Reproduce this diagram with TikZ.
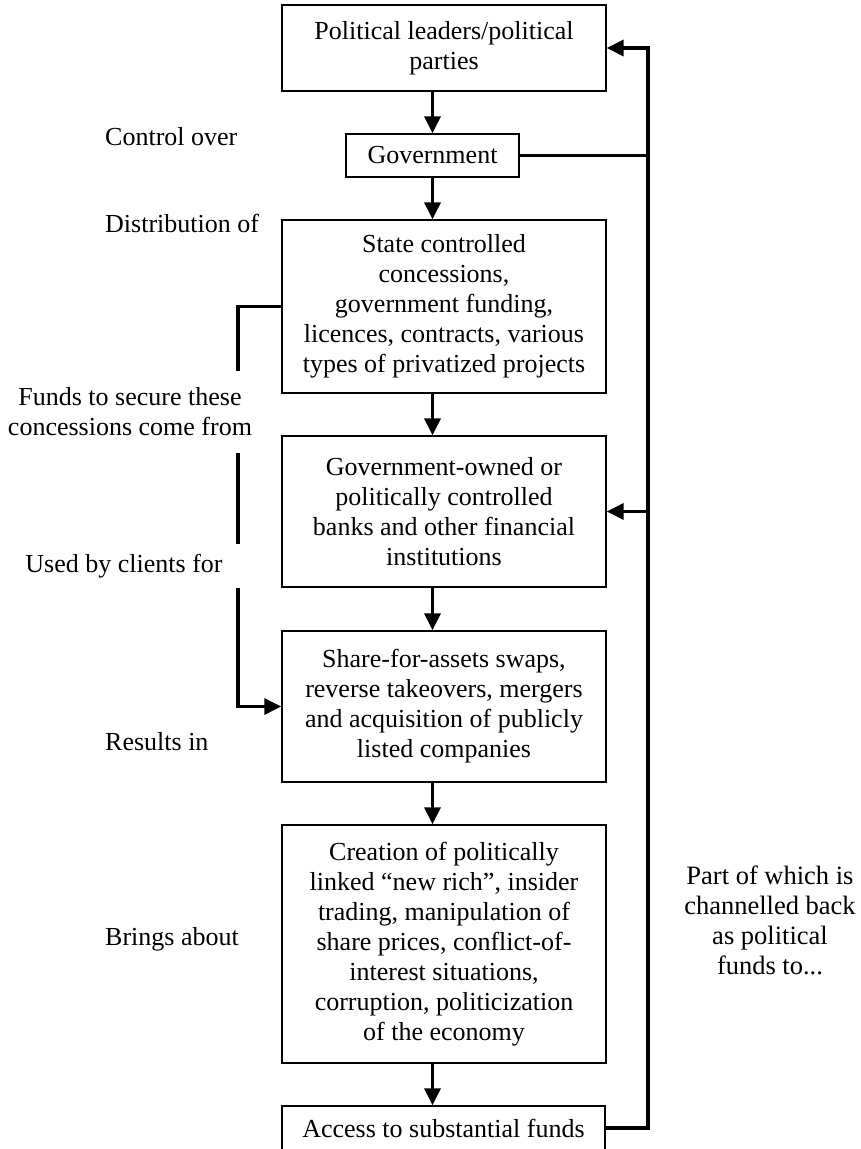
\documentclass[tikz,border=0pt]{standalone}
\usepackage{fontspec}
\setmainfont{Liberation Serif}
\usetikzlibrary{arrows.meta}
\begin{document}
\begin{tikzpicture}[x=1pt,y=-1pt,
  box/.style={draw, line width=1.4pt, rectangle, inner sep=0pt, align=center,
    font=\fontsize{26}{30}\selectfont},
  lbl/.style={inner sep=0pt, font=\fontsize{26}{30}\selectfont, align=center},
  conn/.style={line width=3.5pt},
  arr/.style={line width=3.5pt, -{Triangle[length=17pt,width=16pt]}}]
\useasboundingbox (0,0) rectangle (861,1149);
% boxes
\node[box, minimum width=324pt, minimum height=86pt] (b1) at (444,48)
  {Political leaders/political\\parties};
\node[box, minimum width=173pt, minimum height=43pt] (gov) at (432.5,155.5)
  {Government};
\node[box, minimum width=324pt, minimum height=173pt] (b3) at (444,306.5)
  {State controlled\\concessions,\\government funding,\\licences, contracts, various\\types of privatized projects};
\node[box, minimum width=324pt, minimum height=151pt] (b4) at (444,511.5)
  {Government-owned or\\politically controlled\\banks and other financial\\institutions};
\node[box, minimum width=324pt, minimum height=151pt] (b5) at (444,706.5)
  {Share-for-assets swaps,\\reverse takeovers, mergers\\and acquisition of publicly\\listed companies};
\node[box, minimum width=324pt, minimum height=238pt] (b6) at (444,944)
  {Creation of politically\\linked “new rich”, insider\\trading, manipulation of\\share prices, conflict-of-\\interest situations,\\corruption, politicization\\of the economy};
\node[box, minimum width=323pt, minimum height=44pt] (b7) at (443.5,1128)
  {Access to substantial funds};
% side labels
\node[lbl, anchor=base west] (t1) at (105,145) {Control over};
\node[lbl, anchor=base west] (t2) at (105,232) {Distribution of};
\node[lbl] (t3) at (130,412) {Funds to secure these\\concessions come from};
\node[lbl] (t4) at (124,566) {Used by clients for};
\node[lbl, anchor=base west] (t5) at (105,750) {Results in};
\node[lbl, anchor=base west] (t6) at (105,945) {Brings about};
\node[lbl, font=\fontsize{26.5}{30}\selectfont] (t7) at (770,920) {Part of which is\\channelled back\\as political\\funds to...};
% main downward arrows
\draw[arr] (gov.north |- b1.south) -- (gov.north);
\draw[arr] (gov.south) -- (gov.south |- b3.north);
\draw[arr] (gov.south |- b3.south) -- (gov.south |- b4.north);
\draw[arr] (gov.south |- b4.south) -- (gov.south |- b5.north);
\draw[arr] (gov.south |- b5.south) -- (gov.south |- b6.north);
\draw[arr] (gov.south |- b6.south) -- (gov.south |- b7.north);
% right feedback loop
\coordinate (rx) at (648,0);
\draw[arr] (b7.east) -- (b7.east -| rx) -- (b1.east -| rx) -- (b1.east);
\draw[conn] (gov.east) -- (gov.east -| rx);
\draw[arr] (b4.east -| rx) -- (b4.east);
% left loop
\coordinate (lx) at (238,0);
\coordinate (l1) at (238,371);
\coordinate (l2) at (238,453);
\coordinate (l3) at (238,544);
\coordinate (l4) at (238,588);
\draw[conn] (b3.west) -- (b3.west -| lx) -- (l1);
\draw[conn] (l2) -- (l3);
\draw[arr] (l4) -- (l4 |- b5.west) -- (b5.west);
\end{tikzpicture}
\end{document}
